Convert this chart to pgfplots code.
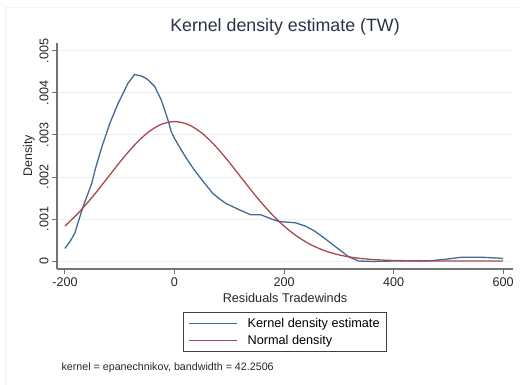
\documentclass[border=0pt]{standalone}
\usepackage{pgfplots}
\pgfplotsset{compat=1.18}
\usepackage{fontspec}
\setmainfont{Liberation Sans}

\definecolor{kdblue}{RGB}{66,106,146}
\definecolor{nrmred}{RGB}{170,72,78}
\definecolor{gridc}{RGB}{232,240,242}
\definecolor{axisc}{RGB}{115,115,115}
\definecolor{titlec}{RGB}{40,50,70}

% long legend samples
\pgfplotsset{legend image code/.code={\draw[#1, line width=1.2pt] (0pt,0pt) -- (48pt,0pt);}}

\begin{document}
\begin{tikzpicture}[x=1pt,y=1pt]
% page area
\useasboundingbox (0pt,0pt) rectangle (520pt,-385pt);
\draw[gridc!70, line width=0.8pt] (5.5pt,-385pt) -- (5.5pt,-7pt) -- (520pt,-7pt);

\begin{axis}[
  at={(57pt,-269pt)}, anchor=south west,
  scale only axis, width=456pt, height=226pt,
  xmin=-214.5, xmax=618,
  ymin=-0.00019, ymax=0.00519,
  axis x line*=bottom, axis y line*=left,
  axis line style={axisc, line width=1.1pt},
  tick style={axisc, line width=1pt},
  tick align=outside, major tick length=5pt,
  xtick={-200,0,200,400,600},
  ytick={0,0.001,0.002,0.003,0.004,0.005},
  yticklabels={0,.001,.002,.003,.004,.005},
  scaled y ticks=false,
  /pgf/number format/assume math mode=true,
  ticklabel style={font=\fontsize{12.6}{14}\selectfont, text=black!85},
  xticklabel style={anchor=north, yshift=0pt},
  yticklabel style={rotate=90, anchor=south, xshift=0pt},
  ymajorgrids, major grid style={gridc, line width=1pt},
  title={Kernel density estimate (TW)},
  title style={at={(0.5,1.0443)}, anchor=center, font=\fontsize{17.8}{20}\selectfont, text=titlec},
  xlabel={Residuals Tradewinds},
  xlabel style={at={(0.5,-0.128)}, anchor=center, font=\fontsize{12.7}{14}\selectfont, text=black!85},
  ylabel={Density},
  ylabel style={at={(-0.0614,0.5)}, anchor=center, rotate=0, font=\fontsize{12.5}{14}\selectfont, text=black!85},
  legend style={at={(0.5,-0.190)}, anchor=north, draw=black!75, line width=0.8pt,
    font=\fontsize{12.7}{14}\selectfont, inner xsep=5pt, inner ysep=3.5pt,
    row sep=3pt, column sep=8pt, cells={anchor=west}},
  legend cell align=left,
  clip=false,
]
% kernel density estimate, Epanechnikov kernel
\addplot[kdblue, line width=1.3pt] coordinates {
(-200,0.00030) (-190,0.00048) (-182,0.00066) (-175,0.00096) (-167,0.00129)
(-159,0.00157) (-151,0.00185) (-145,0.00217) (-133,0.00270) (-118,0.00328)
(-103,0.00375) (-85,0.00423) (-73,0.00444) (-62,0.00441) (-55,0.00437)
(-48,0.00431) (-36,0.00415) (-24,0.00383) (-12,0.00336) (-6,0.00308)
(0,0.00292) (9,0.00272) (20,0.00248) (36,0.00217) (55,0.00185)
(70,0.00161) (82,0.00148) (94,0.00137) (115,0.00124) (139,0.00110)
(158,0.00110) (175,0.00101) (191,0.00094) (221,0.00091) (239,0.00083)
(255,0.00072) (270,0.00058) (294,0.00034) (318,0.00010) (336,0.00000)
(360,-0.00001) (400,0.00000) (450,0.00000) (470,0.00001) (500,0.00005)
(524,0.00009) (560,0.00009) (591,0.00007) (600,0.00006)
};
\addlegendentry{Kernel density estimate}
% normal density with the residuals' mean and standard deviation
\addplot[nrmred, line width=1.3pt, smooth, tension=0.5] coordinates {
(-200,0.000832) (-175,0.001150) (-150,0.001524) (-125,0.001933) (-100,0.002349)
(-75,0.002733) (-50,0.003045) (-25,0.003249) (0,0.003320) (25,0.003249)
(50,0.003045) (75,0.002733) (100,0.002349) (125,0.001933) (150,0.001524)
(175,0.001150) (200,0.000832) (225,0.000576) (250,0.000382) (275,0.000242)
(300,0.000147) (325,0.000086) (350,0.000048) (375,0.000026) (400,0.000013)
(450,0.000003) (500,0.000001) (550,0.000000) (600,0.000000)
};
\addlegendentry{Normal density}
\end{axis}

\node[anchor=west, font=\fontsize{10.7}{12}\selectfont, text=black!85] at (58pt,-368pt)
  {kernel = epanechnikov, bandwidth = 42.2506};
\end{tikzpicture}
\end{document}
